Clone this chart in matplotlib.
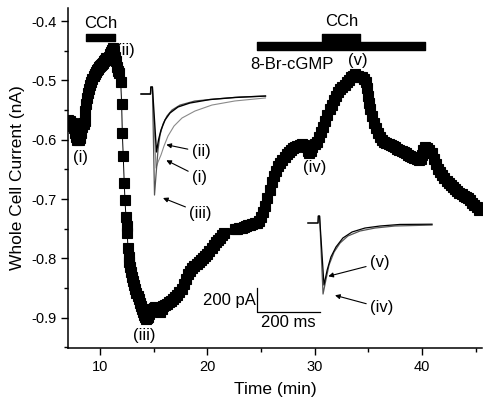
import numpy as np
import matplotlib
matplotlib.use("Agg")
from matplotlib import pyplot as plt
from matplotlib.ticker import MultipleLocator

plt.rcParams["font.family"] = ["Liberation Sans", "DejaVu Sans"]
plt.rcParams["axes.unicode_minus"] = False

# whole cell current vs time (min, nA)
time_min = [
    7.0, 7.1, 7.2, 7.3, 7.4, 7.5, 7.6, 7.7, 7.8, 7.9, 8.0, 8.1, 8.2, 8.3, 8.4, 8.5, 8.58,
    8.62, 8.7, 8.8, 8.9, 9.0, 9.1, 9.2, 9.3, 9.4, 9.5, 9.6, 9.7, 9.8, 9.9, 10.0, 10.1, 10.2,
    10.3, 10.4, 10.5, 10.6, 10.7, 10.8, 10.9, 11.0, 11.1, 11.2, 11.3, 11.4, 11.5, 11.6, 11.7,
    11.77, 11.93, 12.02, 12.08, 12.17, 12.26, 12.33, 12.42, 12.49, 12.54, 12.61,
    12.66, 12.73, 12.8, 12.9, 13.0, 13.1, 13.2, 13.3, 13.4, 13.5, 13.6, 13.7, 13.8, 13.9,
    14.0, 14.1, 14.2, 14.3, 14.4, 14.5, 14.6, 14.7, 14.85, 15.0, 15.15, 15.3, 15.45, 15.6,
    15.75, 15.9, 16.05, 16.2, 16.4, 16.6, 16.8, 17.0, 17.2, 17.4, 17.6, 17.8, 18.0, 18.2,
    18.4, 18.6, 18.8, 19.0, 19.2, 19.4, 19.6, 19.8, 20.0, 20.2, 20.4, 20.6, 20.8, 21.0,
    21.2, 21.4, 21.6,
    22.6, 22.8, 23.0, 23.2, 23.4, 23.6, 23.8, 24.0, 24.2, 24.4, 24.6, 24.8, 25.0, 25.2,
    25.4, 25.6, 25.8, 26.0, 26.2, 26.4, 26.6, 26.8, 27.0, 27.2, 27.4, 27.6, 27.8, 28.0,
    28.2, 28.4, 28.6, 28.8, 29.0, 29.2, 29.35, 29.5, 29.65, 29.8, 30.0, 30.2, 30.4, 30.6,
    30.8, 31.0, 31.2, 31.4, 31.6, 31.8, 32.0, 32.2, 32.4, 32.6, 32.8, 33.0, 33.2, 33.4,
    33.6, 33.8, 34.0, 34.2, 34.4, 34.6, 34.8, 34.9, 35.0, 35.1, 35.2, 35.35, 35.5, 35.7,
    35.9, 36.1, 36.3, 36.5, 36.7, 36.9, 37.1, 37.3, 37.5, 37.7, 37.9, 38.1, 38.3, 38.5,
    38.7, 38.9, 39.1, 39.3, 39.5, 39.7, 39.9, 40.0, 40.1, 40.3, 40.5, 40.7, 40.9, 41.1,
    41.3, 41.5, 41.7, 41.9, 42.1, 42.3, 42.5, 42.7, 42.9, 43.1, 43.3, 43.5, 43.7, 43.9,
    44.1, 44.3, 44.5, 44.7, 44.9, 45.1, 45.3,
]
current_na = [
    -0.566, -0.571, -0.568, -0.574, -0.572, -0.577, -0.580, -0.588, -0.595, -0.600, -0.601,
    -0.597, -0.588, -0.578, -0.572, -0.574, -0.568,
    -0.552, -0.540, -0.530, -0.522, -0.515, -0.508, -0.502, -0.497, -0.492, -0.489, -0.486,
    -0.483, -0.480, -0.478, -0.476, -0.474, -0.472, -0.470, -0.468, -0.466, -0.463, -0.466,
    -0.461, -0.456, -0.452, -0.448, -0.446, -0.451, -0.460, -0.468, -0.477, -0.484,
    -0.488, -0.502, -0.540, -0.588, -0.628, -0.673, -0.702, -0.730, -0.746, -0.758, -0.783,
    -0.797, -0.806, -0.814, -0.823, -0.831, -0.838, -0.845, -0.852, -0.858, -0.864, -0.869,
    -0.875, -0.880, -0.886, -0.891, -0.895, -0.899, -0.902, -0.901, -0.898, -0.893, -0.889,
    -0.886, -0.884, -0.882, -0.883, -0.888, -0.891, -0.886, -0.881, -0.879, -0.877, -0.874,
    -0.871, -0.868, -0.865, -0.861, -0.857, -0.851, -0.843, -0.835, -0.827, -0.821, -0.817,
    -0.813, -0.810, -0.806, -0.803, -0.800, -0.796, -0.792, -0.787, -0.783, -0.778, -0.773,
    -0.769, -0.765, -0.761, -0.757,
    -0.751, -0.750, -0.749, -0.748, -0.747, -0.745, -0.744, -0.743, -0.742, -0.741, -0.740,
    -0.737, -0.731, -0.722, -0.711, -0.698, -0.685, -0.672, -0.661, -0.652, -0.645, -0.639,
    -0.634, -0.629, -0.624, -0.620, -0.617, -0.614, -0.612, -0.610, -0.609, -0.608, -0.609,
    -0.613, -0.619, -0.623, -0.619, -0.613, -0.608, -0.603, -0.595, -0.587, -0.579, -0.569,
    -0.558, -0.549, -0.541, -0.533, -0.526, -0.520, -0.515, -0.511, -0.507, -0.503, -0.499,
    -0.495, -0.492, -0.490, -0.492, -0.494, -0.495, -0.497, -0.502, -0.513, -0.526, -0.538,
    -0.548, -0.560, -0.571, -0.581, -0.589, -0.595, -0.600, -0.603, -0.605, -0.607, -0.609,
    -0.611, -0.613, -0.615, -0.617, -0.619, -0.621, -0.623, -0.625, -0.627, -0.629, -0.631,
    -0.633, -0.634, -0.633, -0.625, -0.617, -0.613, -0.614, -0.617, -0.623, -0.632, -0.641,
    -0.649, -0.655, -0.660, -0.665, -0.669, -0.673, -0.677, -0.680, -0.683, -0.686, -0.689,
    -0.692, -0.694, -0.697, -0.699, -0.702, -0.706, -0.710, -0.714, -0.718,
]

# drug application bars: (start, end) in min
cch1_span = (8.7, 11.4)
cch2_span = (30.72, 34.23)
cgmp_span = (24.6, 40.3)

# point labels on the time course
point_labels = ["(i)", "(ii)", "(iii)", "(iv)", "(v)"]
point_label_t = [8.14, 12.33, 14.1, 30.04, 34.0]
point_label_i = [-0.630, -0.449, -0.9295, -0.647, -0.466]

# inset traces (ms, pA)
tr_i_ms = [-30, 0, 1, 6, 17.5, 23.8, 33.3, 42.9, 55.6, 74.6, 100, 141, 195, 268, 365]
tr_i_pa = [0, 0, 58, 58, -617, -567, -508, -433, -350, -267, -200, -142, -92, -58, -33]
tr_ii_ms = [-30, 0, 1, 6, 19, 25.4, 33.3, 46, 61.9, 87.3, 125, 189, 268, 365]
tr_ii_pa = [0, 0, 58, 58, -483, -383, -300, -217, -158, -108, -75, -46, -29, -17]
tr_iii_ms = [-30, 0, 1, 6, 12.7, 17.5, 23.8, 30.2, 39.7, 52.4, 68.3, 93.7, 141, 205, 284, 365]
tr_iii_pa = [0, 0, 58, 58, -842, -675, -467, -342, -250, -183, -133, -92, -58, -42, -25, -17]
tr_iv_ms = [-32, 0, 1, 5, 16, 25, 35, 51, 70, 95, 133, 181, 244, 362]
tr_iv_pa = [0, 0, 58, 58, -592, -475, -350, -242, -167, -108, -67, -42, -25, -17]
tr_v_ms = [-32, 0, 1, 5, 19, 29, 41, 57, 79, 108, 149, 197, 260, 362]
tr_v_pa = [0, 0, 58, 58, -517, -392, -283, -200, -125, -75, -42, -25, -12, -10]

scale_ms = 200
scale_pa = 200

fig = plt.figure(figsize=(4.90, 4.04), dpi=100)
ax = fig.add_axes([68 / 490, 56 / 404, 414 / 490, 340 / 404])

ax.plot(time_min, current_na, color="black", lw=0.7, marker="s", ms=6.8,
        mec="black", mfc="black", mew=0.8)

bar_h = 0.012
ax.broken_barh([(cch1_span[0], cch1_span[1] - cch1_span[0])], (-0.434, bar_h), color="black")
ax.broken_barh([(cgmp_span[0], cgmp_span[1] - cgmp_span[0])], (-0.449, 0.013), color="black")
ax.broken_barh([(cch2_span[0], cch2_span[1] - cch2_span[0])], (-0.436, 0.015), color="black")
ax.text(np.mean(cch1_span), -0.404, "CCh", ha="center", va="center", fontsize=12)
ax.text(32.5, -0.401, "CCh", ha="center", va="center", fontsize=12)
ax.text(23.98, -0.4725, "8-Br-cGMP", ha="left", va="center", fontsize=12)

for lab, t, c in zip(point_labels, point_label_t, point_label_i):
    ax.text(t, c, lab, ha="center", va="center", fontsize=12)

ax.set_xlim(7.02, 45.6)
ax.set_ylim(-0.951, -0.378)
ax.xaxis.set_major_locator(MultipleLocator(10))
ax.xaxis.set_minor_locator(MultipleLocator(5))
ax.yaxis.set_major_locator(MultipleLocator(0.1))
ax.yaxis.set_minor_locator(MultipleLocator(0.05))
ax.yaxis.set_major_formatter(plt.FuncFormatter(lambda v, p: "%.1f" % v))
ax.tick_params(which="major", direction="out", length=5, width=1, labelsize=10.5)
ax.tick_params(which="minor", direction="out", length=3, width=1)
for s in ["top", "right"]:
    ax.spines[s].set_visible(False)
for s in ["left", "bottom"]:
    ax.spines[s].set_linewidth(1.1)
ax.set_xlabel("Time (min)", fontsize=12.5, labelpad=6)
ax.set_ylabel("Whole Cell Current (nA)", fontsize=12.5, labelpad=4)

arrow_kw = dict(arrowstyle="-|>", color="black", lw=0.8, mutation_scale=7, shrinkA=1, shrinkB=0)

# inset 1 (traces i, ii, iii)
ax1 = fig.add_axes([130 / 490, 1 - 225 / 404, 150 / 490, 145 / 404])
ax1.set_xlim(-65.1, 411.1)
ax1.set_ylim(-1091.7, 116.7)
ax1.set_axis_off()
ax1.plot(tr_i_ms, tr_i_pa, color="#8a8a8a", lw=0.8)
ax1.plot(tr_iii_ms, tr_iii_pa, color="#555555", lw=0.9)
ax1.plot(tr_ii_ms, tr_ii_pa, color="black", lw=1.0)
ax1.annotate("(ii)", xy=(50.2, -422.5), xytext=(161.3, -483), fontsize=12,
             ha="center", va="center", arrowprops=arrow_kw)
ax1.annotate("(i)", xy=(50.2, -552.5), xytext=(156.2, -691.7), fontsize=12,
             ha="center", va="center", arrowprops=arrow_kw)
ax1.annotate("(iii)", xy=(39.7, -866.7), xytext=(159.5, -991.7), fontsize=12,
             ha="center", va="center", arrowprops=arrow_kw)

# inset 2 (traces iv, v) with scale bar
ax2 = fig.add_axes([250 / 490, 1 - 335 / 404, 190 / 490, 130 / 404])
ax2.set_xlim(-215.9, 387.3)
ax2.set_ylim(-933.3, 150)
ax2.set_axis_off()
ax2.plot(tr_iv_ms, tr_iv_pa, color="#555555", lw=0.9)
ax2.plot(tr_v_ms, tr_v_pa, color="black", lw=0.9)
ax2.annotate("(v)", xy=(32.7, -444), xytext=(196.8, -333), fontsize=12,
             ha="center", va="center", arrowprops=arrow_kw)
ax2.annotate("(iv)", xy=(54, -602.5), xytext=(203.2, -708), fontsize=12,
             ha="center", va="center", arrowprops=arrow_kw)

sb_x, sb_y = -193.7, -741.7
ax2.plot([sb_x, sb_x, sb_x + scale_ms], [sb_y + scale_pa, sb_y, sb_y], color="black", lw=0.9)
ax2.text(sb_x - 3, sb_y + scale_pa / 2, "%d pA" % scale_pa, ha="right", va="center", fontsize=12)
ax2.text(sb_x + scale_ms / 2, sb_y - 90, "%d ms" % scale_ms, ha="center", va="center", fontsize=12)

fig.savefig("out.png", dpi=100)
